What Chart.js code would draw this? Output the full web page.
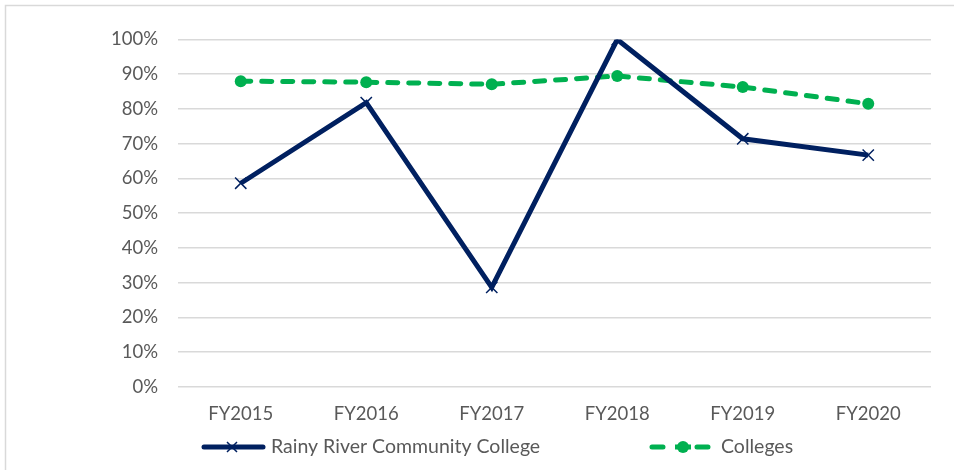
<!DOCTYPE html>
<html><head><meta charset="utf-8">
<script src="https://cdn.jsdelivr.net/npm/chart.js@4.4.0/dist/chart.umd.min.js"></script>
<style>html,body{margin:0;padding:0;background:#fff}#wrap{width:963px;height:470px;position:relative}</style>
</head><body><div id="wrap"><canvas id="c"></canvas></div>
<script>
const categories = ["FY2015","FY2016","FY2017","FY2018","FY2019","FY2020"];
const rainyRiver = [0.586, 0.818, 0.286, 1.0, 0.714, 0.667];
const colleges = [0.880, 0.877, 0.871, 0.895, 0.863, 0.815];
const seriesNames = ["Rainy River Community College", "Colleges"];
const FONT = "Lato, 'Liberation Sans', sans-serif";

const frame = {
  id: 'frame',
  beforeDraw(chart){
    const ctx = chart.ctx;
    ctx.save();
    ctx.strokeStyle = '#d9d9d9'; ctx.lineWidth = 1.5;
    ctx.beginPath(); ctx.moveTo(5.5, 480); ctx.lineTo(5.5, 5.5); ctx.lineTo(954, 5.5); ctx.stroke();
    ctx.restore();
  }
};
const legend = {
  id: 'customLegend',
  afterDraw(chart){
    const ctx = chart.ctx;
    const y = 447;
    const items = [
      {x0:202, x1:265, mx:232, tx:271, ds:chart.data.datasets[0]},
      {x0:650, x1:710, mx:683, tx:721, ds:chart.data.datasets[1]}
    ];
    ctx.save();
    items.forEach((it, i) => {
      const ds = it.ds;
      ctx.strokeStyle = ds.borderColor; ctx.lineWidth = ds.borderWidth; ctx.lineCap = 'round';
      if (i === 0) {
        ctx.beginPath(); ctx.moveTo(it.x0 + 2, y); ctx.lineTo(it.x1 - 2, y); ctx.stroke();
        ctx.lineWidth = 1.5; ctx.lineCap = 'butt'; ctx.strokeStyle = ds.pointBorderColor;
        const r = 5;
        ctx.beginPath(); ctx.moveTo(it.mx - r, y - r); ctx.lineTo(it.mx + r, y + r);
        ctx.moveTo(it.mx + r, y - r); ctx.lineTo(it.mx - r, y + r); ctx.stroke();
      } else {
        ctx.lineCap = 'round';
        ctx.beginPath(); ctx.moveTo(it.x0 + 2, y); ctx.lineTo(it.x0 + 13, y);
        ctx.moveTo(it.x1 - 13, y); ctx.lineTo(it.x1 - 2, y); ctx.stroke();
        ctx.fillStyle = ds.pointBackgroundColor;
        ctx.beginPath(); ctx.arc(it.mx, y, 6, 0, Math.PI * 2); ctx.fill();
        ctx.fillRect(it.mx - 8, y - 2.5, 16, 5);
      }
      ctx.fillStyle = '#595959'; ctx.font = '19.5px ' + FONT; ctx.textBaseline = 'middle';
      ctx.fillText(ds.label, it.tx, y);
    });
    ctx.restore();
  }
};

new Chart(document.getElementById('c'), {
  type: 'line',
  data: {
    labels: categories,
    datasets: [
      { label: seriesNames[0], data: rainyRiver, borderColor: '#002060', borderWidth: 5,
        pointStyle: 'crossRot', pointRadius: 8, pointBorderWidth: 1.5, pointBorderColor: '#002060',
        pointBackgroundColor: '#002060', tension: 0 },
      { label: seriesNames[1], data: colleges, borderColor: '#00b050', borderWidth: 5, borderDash: [10, 11],
        borderCapStyle: 'round',
        pointStyle: 'circle', pointRadius: 6, pointBorderWidth: 0, pointBackgroundColor: '#00b050',
        pointBorderColor: '#00b050', tension: 0 }
    ]
  },
  options: {
    responsive: true, maintainAspectRatio: false, animation: false,
    layout: { padding: { left: 0, right: 32, top: 39.5, bottom: 0 } },
    plugins: { legend: { display: false }, tooltip: { enabled: false } },
    scales: {
      x: {
        offset: true,
        grid: { display: false, drawTicks: false },
        border: { display: false },
        ticks: { color: '#595959', font: { family: FONT, size: 18.5 }, padding: 16 },
        afterFit(s){ s.height = 83.3; }
      },
      y: {
        min: 0, max: 1,
        grid: { color: '#d9d9d9', lineWidth: 1.5, drawTicks: false },
        border: { display: false },
        ticks: { stepSize: 0.1, color: '#595959', font: { family: FONT, size: 18.5 }, padding: 20,
          callback: v => Math.round(v * 100) + '%' },
        afterFit(s){ s.width = 178; }
      }
    }
  },
  plugins: [frame, legend]
});
</script></body></html>
